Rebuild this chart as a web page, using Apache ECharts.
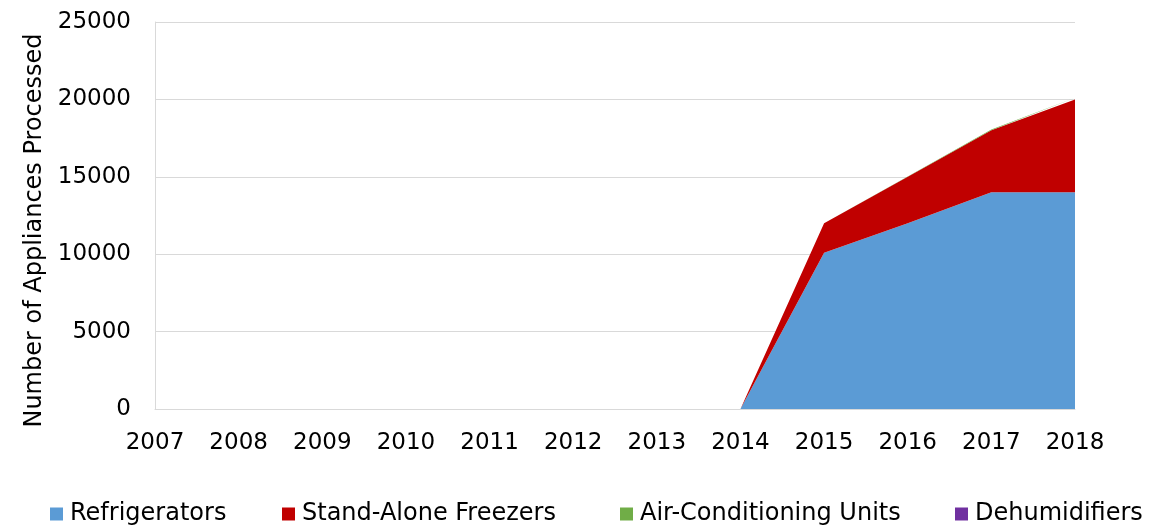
<!DOCTYPE html>
<html>
<head>
<meta charset="utf-8">
<script src="https://cdn.jsdelivr.net/npm/echarts@6/dist/echarts.min.js"></script>
<style>
  html, body { margin: 0; padding: 0; background: #fff; }
  #chart { width: 1158px; height: 527px; }
</style>
</head>
<body>
<div id="chart"></div>
<script>
var years = ["2007", "2008", "2009", "2010", "2011", "2012", "2013", "2014", "2015", "2016", "2017", "2018"];
var refrigerators = [0, 0, 0, 0, 0, 0, 0, 0, 10100, 12000, 14000, 14000];
var freezers = [0, 0, 0, 0, 0, 0, 0, 0, 1900, 3000, 4000, 6000];
var acUnits = [0, 0, 0, 0, 0, 0, 0, 0, 0, 20, 50, 100];
var dehumidifiers = [0, 0, 0, 0, 0, 0, 0, 0, 0, 0, 0, 0];

var names = ["Refrigerators", "Stand-Alone Freezers", "Air-Conditioning Units", "Dehumidifiers"];
var colors = ["#5b9bd5", "#c00000", "#70ad47", "#7030a0"];
var values = [refrigerators, freezers, acUnits, dehumidifiers];
var legendLeft = [50, 282, 620, 955];
var font = "DejaVu Sans, Liberation Sans, sans-serif";

var chart = echarts.init(document.getElementById("chart"));

var series = [];
var legends = [];
for (var i = 0; i < names.length; i++) {
  series.push({
    name: names[i],
    type: "line",
    stack: "total",
    data: values[i],
    showSymbol: false,
    symbol: "none",
    color: colors[i],
    lineStyle: { width: 0, color: colors[i] },
    areaStyle: { color: colors[i], opacity: 1 }
  });
  // one legend per item so each sits where it does in the picture
  legends.push({
    data: [names[i]],
    top: 502,
    left: legendLeft[i],
    padding: 0,
    itemWidth: 13,
    itemHeight: 13,
    itemGap: 0,
    icon: "rect",
    textStyle: { fontSize: 24, color: "#000", fontFamily: font, padding: [0, 0, 0, 2] }
  });
}

var option = {
  animation: false,
  textStyle: { fontFamily: font },
  legend: legends,
  grid: { left: 155, right: 83, top: 22, bottom: 118 },
  xAxis: {
    type: "category",
    boundaryGap: false,
    data: years,
    axisLine: { lineStyle: { color: "#d9d9d9", width: 1 } },
    axisTick: { show: false },
    axisLabel: { fontSize: 23, color: "#000", margin: 23, fontFamily: font }
  },
  yAxis: {
    type: "value",
    min: 0,
    max: 25000,
    interval: 5000,
    name: "Number of Appliances Processed",
    nameLocation: "middle",
    nameGap: 104,
    nameTextStyle: { fontSize: 24, color: "#000", fontFamily: font, padding: [0, 30, 0, 0] },
    axisLine: { show: true, lineStyle: { color: "#d9d9d9" } },
    axisTick: { show: false },
    axisLabel: {
      fontSize: 23, color: "#000", margin: 24, fontFamily: font,
      formatter: function (v) { return String(v); }
    },
    splitLine: { lineStyle: { color: "#d9d9d9", width: 1 } }
  },
  series: series
};

chart.setOption(option);
</script>
</body>
</html>
